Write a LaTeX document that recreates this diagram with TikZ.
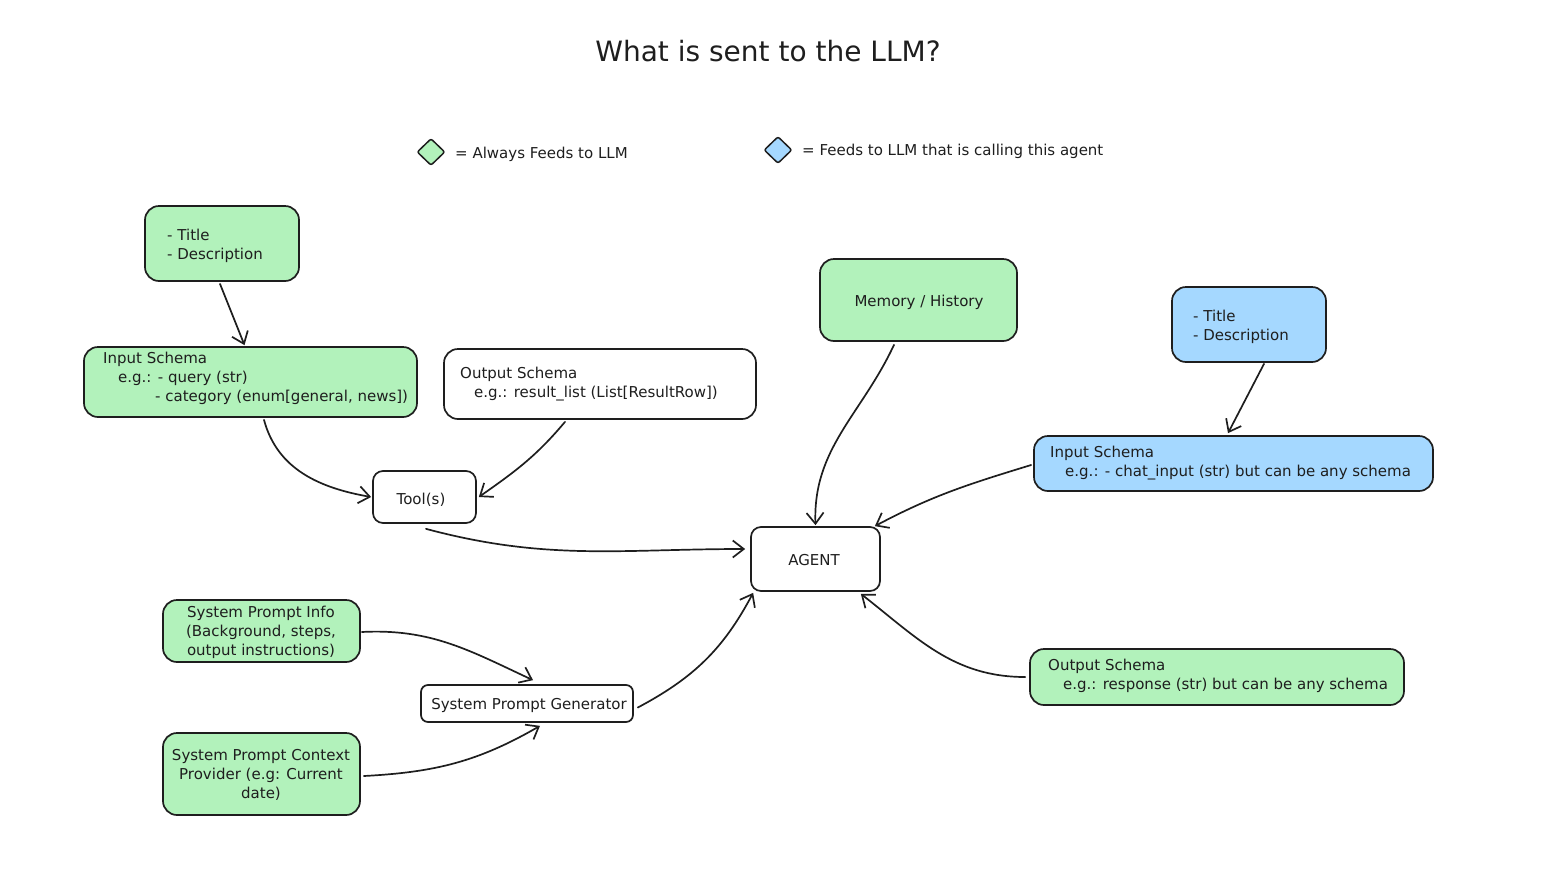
\documentclass[tikz,border=0pt]{standalone}
\usepackage{fontspec}
\setmainfont{DejaVu Sans}
\usetikzlibrary{arrows.meta,shapes.geometric,calc}
\definecolor{ink}{HTML}{1E1E1E}
\definecolor{mint}{HTML}{B2F2BB}
\definecolor{sky}{HTML}{A5D8FF}
\tikzset{
  box/.style={draw=ink, line width=1.7pt, rounded corners=14pt, inner sep=0pt},
  txt/.style={text=ink, inner sep=0pt, font=\fontsize{15}{19}\selectfont},
  link/.style={draw=ink, line width=1.7pt, line cap=round,
    -{Straight Barb[length=11pt,width=17pt,line width=1.7pt]}},
  gem/.style={diamond, draw=ink, line width=1.5pt, inner sep=0pt,
    minimum width=28pt, minimum height=27pt, rounded corners=2pt}
}
\begin{document}
\begin{tikzpicture}[x=1pt,y=-1pt]
\useasboundingbox (0,0) rectangle (1543,873);

% heading
\node[txt, font=\fontsize{28}{32}\selectfont] (title) at (768,51) {What is sent to the LLM?};

% legend
\node[gem, fill=mint] (lg1) at (431,152) {};
\node[txt, anchor=west] (lg1t) at (455,154) {= Always Feeds to LLM};
\node[gem, fill=sky] (lg2) at (778,150) {};
\node[txt, anchor=west] (lg2t) at (802,151) {= Feeds to LLM that is calling this agent};

% boxes
\node[box, fill=mint, minimum width=154, minimum height=75] (td1) at (222,243.5) {};
\node[box, fill=mint, minimum width=333, minimum height=70] (is1) at (250.5,382) {};
\node[box, fill=white, minimum width=312, minimum height=70] (os1) at (600,384) {};
\node[box, fill=white, rounded corners=10pt, minimum width=103, minimum height=52] (tools) at (424.5,497) {};
\node[box, fill=white, rounded corners=10pt, minimum width=129, minimum height=64] (agent) at (815.5,559) {};
\node[box, fill=mint, minimum width=197, minimum height=82] (mem) at (918.5,300) {};
\node[box, fill=sky, minimum width=154, minimum height=75] (td2) at (1249,324.5) {};
\node[box, fill=sky, minimum width=399, minimum height=55] (is2) at (1233.5,463.5) {};
\node[box, fill=mint, minimum width=374, minimum height=56] (os2) at (1217,677) {};
\node[box, fill=mint, minimum width=197, minimum height=62] (spi) at (261.5,631) {};
\node[box, fill=white, rounded corners=7pt, minimum width=212, minimum height=37] (spg) at (527,703.5) {};
\node[box, fill=mint, minimum width=197, minimum height=82] (spc) at (261.5,774) {};

% box texts
\node[txt, anchor=west, align=left] (td1t) at (167,245.5) {- Title\\- Description};
\node[txt, anchor=west, align=left] (is1t) at (103,378) {Input Schema\\\hspace*{15pt}e.g.: - query (str)\\\hspace*{52pt}- category (enum[general, news])};
\node[txt, anchor=west, align=left] (os1t) at (460,384.5) {Output Schema\\\hspace*{14pt}e.g.: result\_list (List[ResultRow])};
\node[txt] (toolst) at (421,500) {Tool(s)};
\node[txt] (agentt) at (814,560) {AGENT};
\node[txt] (memt) at (919,302) {Memory / History};
\node[txt, anchor=west, align=left] (td2t) at (1193,326.5) {- Title\\- Description};
\node[txt, anchor=west, align=left] (is2t) at (1050,463.5) {Input Schema\\\hspace*{15pt}e.g.: - chat\_input (str) but can be any schema};
\node[txt, anchor=west, align=left] (os2t) at (1048,676) {Output Schema\\\hspace*{15pt}e.g.: response (str) but can be any schema};
\node[txt, align=center] (spit) at (261,632) {System Prompt Info\\(Background, steps,\\output instructions)};
\node[txt] (spgt) at (529,705) {System Prompt Generator};
\node[txt, align=center] (spct) at (261,775) {System Prompt Context\\Provider (e.g: Current\\date)};

% connectors
\draw[link] ($(td1.south)+(-2,2)$) -- ($(is1.north)+(-6,-1)$);
\draw[link] ($(is1.south)+(13.5,2)$) to[out=-75, in=170] ($(tools.west)+(-1,0)$);
\draw[link] ($(os1.south)+(-35,2)$) to[out=-130, in=35] ($(tools.east)+(2,0)$);
\draw[link] ($(tools.south)+(1.5,5)$) to[out=-15, in=180] ($(agent.west)+(-5,-10)$);
\draw[link] ($(mem.south)+(-24.5,3)$) to[out=-115, in=92] ($(agent.north)+(0,-1)$);
\draw[link] ($(td2.south)+(15,1)$) -- ($(is2.north)+(-5.5,-2)$);
\draw[link] ($(is2.west)+(-2,1.5)$) to[out=197, in=28] ($(agent.north east)+(-6,0)$);
\draw[link] ($(os2.west)+(-4,0)$) to[out=180, in=-38] ($(agent.south east)+(-20,2)$);
\draw[link] ($(spi.east)+(1,1)$) to[out=3, in=155] ($(spg.north)+(6,-4)$);
\draw[link] ($(spc.east)+(3,2)$) to[out=3, in=-150] ($(spg.south)+(13,3)$);
\draw[link] ($(spg.east)+(4,4)$) to[out=28, in=-118] ($(agent.south west)+(3,1)$);
\end{tikzpicture}
\end{document}
